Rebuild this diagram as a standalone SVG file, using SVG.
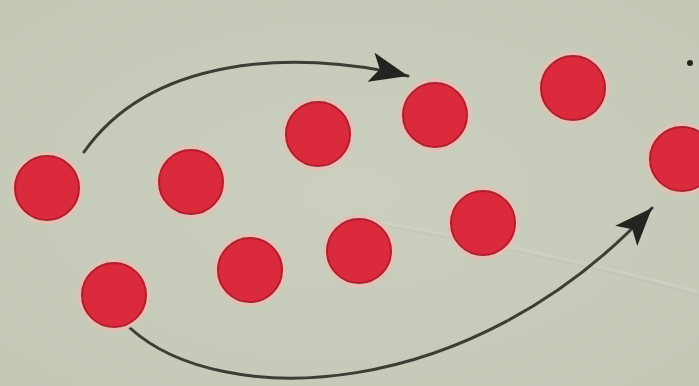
<svg xmlns="http://www.w3.org/2000/svg" width="699" height="386" viewBox="0 0 699 386">
<defs>
<style>
.ball{fill:#db2a3c;stroke:#b01f2d;stroke-width:2}
.halo{fill:none;stroke:#f0b9b0;stroke-width:3;opacity:0.8}
.conn{fill:none;stroke:#3b3e35;stroke-width:3;stroke-linecap:round}
</style>
<marker id="head" markerUnits="userSpaceOnUse" markerWidth="42" markerHeight="32" refX="38" refY="15" orient="auto">
<path d="M0,0 L38,15 L0,30 L9,15 Z" fill="#22241f"/>
</marker>
<radialGradient id="bg" cx="0.5" cy="0.5" r="0.7">
<stop offset="0" stop-color="#cbcfbf"/>
<stop offset="1" stop-color="#c3c8b7"/>
</radialGradient>
</defs>
<rect width="699" height="386" fill="url(#bg)"/>
<path d="M380,222 C480,240 600,265 699,292" fill="none" stroke="#d3d6c8" stroke-width="3" opacity="0.5"/>
<path d="M380,225 C480,243 600,268 699,295" fill="none" stroke="#b9bdac" stroke-width="1.5" opacity="0.35"/>
<g id="connectors">
<path class="conn" d="M84,152 C150,58 290,48 408,76" marker-end="url(#head)"/>
<path class="conn" d="M130,328 C220,410 470,405 652,208" marker-end="url(#head)"/>
</g>
<g id="n1"><circle class="halo" cx="47" cy="188" r="35"/><circle class="ball" cx="47" cy="188" r="32"/></g>
<g id="n2"><circle class="halo" cx="191" cy="182" r="35"/><circle class="ball" cx="191" cy="182" r="32"/></g>
<g id="n3"><circle class="halo" cx="318" cy="134" r="35"/><circle class="ball" cx="318" cy="134" r="32"/></g>
<g id="n4"><circle class="halo" cx="435" cy="115" r="35"/><circle class="ball" cx="435" cy="115" r="32"/></g>
<g id="n5"><circle class="halo" cx="573" cy="88" r="35"/><circle class="ball" cx="573" cy="88" r="32"/></g>
<g id="n6"><circle class="halo" cx="682" cy="159" r="35"/><circle class="ball" cx="682" cy="159" r="32"/></g>
<g id="n7"><circle class="halo" cx="114" cy="295" r="35"/><circle class="ball" cx="114" cy="295" r="32"/></g>
<g id="n8"><circle class="halo" cx="250" cy="270" r="35"/><circle class="ball" cx="250" cy="270" r="32"/></g>
<g id="n9"><circle class="halo" cx="359" cy="251" r="35"/><circle class="ball" cx="359" cy="251" r="32"/></g>
<g id="n10"><circle class="halo" cx="483" cy="223" r="35"/><circle class="ball" cx="483" cy="223" r="32"/></g>
<circle cx="690" cy="63" r="3" fill="#22241f"/>
</svg>
